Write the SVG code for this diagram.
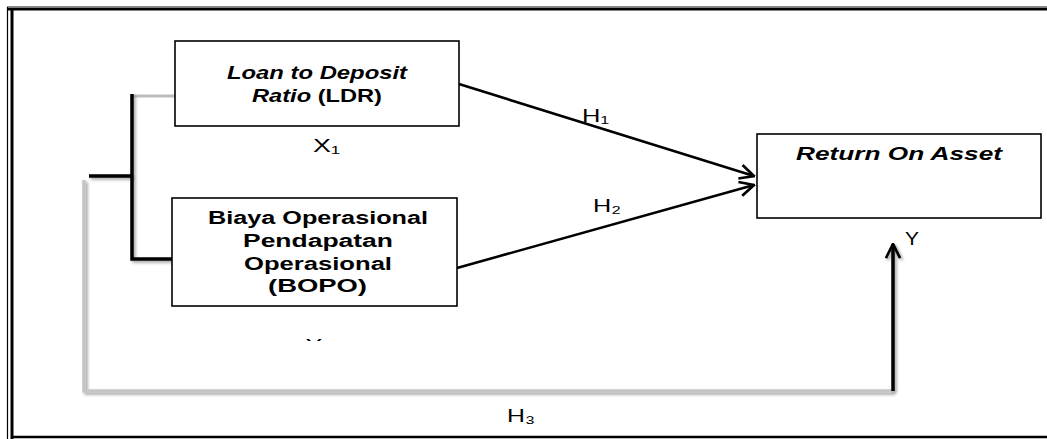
<svg xmlns="http://www.w3.org/2000/svg" width="1047" height="439" viewBox="0 0 1047 439">
<style>
.box{fill:#fff;stroke:#000;stroke-width:1.6}
.bi{font-family:"Liberation Sans",Arial,sans-serif;font-weight:bold;font-style:italic;font-size:18px;fill:#000}
.b{font-family:"Liberation Sans",Arial,sans-serif;font-weight:bold;font-size:18px;fill:#000}
.lbl{font-family:"Liberation Sans","DejaVu Sans",sans-serif;font-size:19px;fill:#000}
.blk{fill:none;stroke:#000;stroke-width:3.5}
.gry{fill:none;stroke:#c4c4c4;stroke-width:3.5}
.arr{fill:none;stroke:#000;stroke-width:2.6}
</style>
<defs>
<marker id="ah" viewBox="0 0 12 12" refX="11" refY="6" markerUnits="userSpaceOnUse" markerWidth="17" markerHeight="17" orient="auto">
<path d="M1,1 L11,6 L1,11" fill="none" stroke="#000" stroke-width="1.9"/>
</marker>
<filter id="sh" filterUnits="userSpaceOnUse" x="0" y="0" width="1047" height="439">
<feGaussianBlur in="SourceAlpha" stdDeviation="1.5"/>
<feOffset dx="1.5" dy="1.5" result="o"/>
<feComponentTransfer><feFuncA type="linear" slope="0.35"/></feComponentTransfer>
<feMerge><feMergeNode/><feMergeNode in="SourceGraphic"/></feMerge>
</filter>
<clipPath id="cut"><rect x="295" y="336" width="40" height="5"/></clipPath>
</defs>
<rect width="1047" height="439" fill="#fff"/>
<g id="frame">
<line x1="7" y1="6.5" x2="1047" y2="6.5" stroke="#888" stroke-width="1"/>
<line x1="7" y1="9" x2="1047" y2="9" stroke="#000" stroke-width="3"/>
<line x1="7.5" y1="7" x2="7.5" y2="439" stroke="#000" stroke-width="1.2"/>
<line x1="12" y1="9" x2="12" y2="439" stroke="#000" stroke-width="3"/>
<line x1="11" y1="437" x2="1047" y2="437" stroke="#000" stroke-width="2.5"/>
</g>
<g id="connectors">
<path class="gry" d="M84,180 V391 H893" filter="url(#sh)"/>
<line x1="132" y1="96" x2="175" y2="96" stroke="#bdbdbd" stroke-width="3"/>
<path class="blk" d="M132,94 V259 H172" filter="url(#sh)"/>
<line class="blk" x1="89" y1="176" x2="132" y2="176" filter="url(#sh)"/>
<line class="arr" x1="459" y1="84" x2="754" y2="176" marker-end="url(#ah)"/>
<line class="arr" x1="457" y1="268" x2="754" y2="185" marker-end="url(#ah)"/>
<line class="blk" x1="893" y1="391" x2="893" y2="244" marker-end="url(#ah)" filter="url(#sh)"/>
<text class="lbl" x="582" y="122" textLength="27" lengthAdjust="spacingAndGlyphs">H₁</text>
<text class="lbl" x="593" y="212" textLength="28" lengthAdjust="spacingAndGlyphs">H₂</text>
<text class="lbl" x="507" y="422" textLength="28" lengthAdjust="spacingAndGlyphs">H₃</text>
</g>
<g id="ldr">
<rect class="box" x="175" y="41" width="284" height="85"/>
<text class="bi" x="227" y="79" textLength="180" lengthAdjust="spacingAndGlyphs">Loan to Deposit</text>
<text class="b" x="252" y="102" textLength="130" lengthAdjust="spacingAndGlyphs"><tspan font-style="italic">Ratio</tspan> (LDR)</text>
<text class="lbl" x="313" y="152" textLength="27" lengthAdjust="spacingAndGlyphs">X₁</text>
</g>
<g id="bopo">
<rect class="box" x="172" y="198" width="285" height="108"/>
<text class="b" x="208" y="224" textLength="220" lengthAdjust="spacingAndGlyphs">Biaya Operasional</text>
<text class="b" x="243" y="247" textLength="150" lengthAdjust="spacingAndGlyphs">Pendapatan</text>
<text class="b" x="244" y="270" textLength="148" lengthAdjust="spacingAndGlyphs">Operasional</text>
<text class="b" x="268" y="292" textLength="99" lengthAdjust="spacingAndGlyphs">(BOPO)</text>
<text class="lbl" x="305" y="352" clip-path="url(#cut)" textLength="28" lengthAdjust="spacingAndGlyphs">X₂</text>
</g>
<g id="roa">
<rect class="box" x="757" y="134" width="284" height="84"/>
<text class="bi" x="796" y="160" textLength="206" lengthAdjust="spacingAndGlyphs">Return On Asset</text>
<text class="lbl" x="905" y="245" textLength="14" lengthAdjust="spacingAndGlyphs">Y</text>
</g>
</svg>
